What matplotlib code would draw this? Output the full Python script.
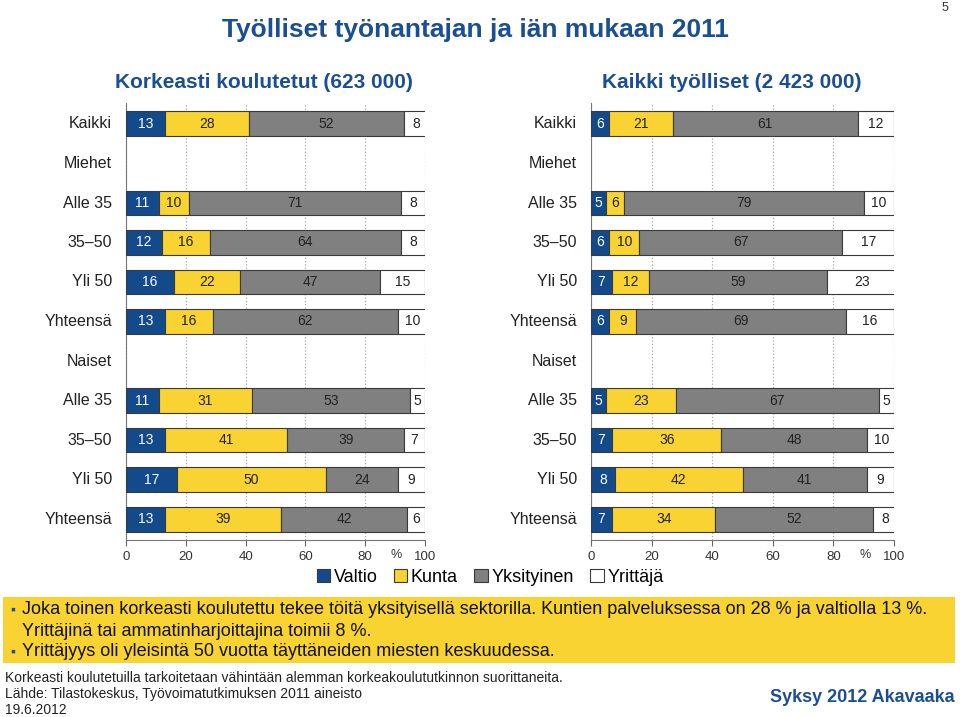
import matplotlib.pyplot as plt
import numpy as np

plt.rcParams['font.family'] = ['Liberation Sans', 'DejaVu Sans']

rows = ["Kaikki", "Miehet", "Alle 35", "35–50", "Yli 50", "Yhteensä",
        "Naiset", "Alle 35", "35–50", "Yli 50", "Yhteensä"]
series = ["Valtio", "Kunta", "Yksityinen", "Yrittäjä"]
colors = ["#124a8c", "#f9d331", "#808080", "#ffffff"]
txtcol = ["white", "#222222", "#222222", "#222222"]

# None = header row without bar
korkeasti = [[13, 28, 52, 8], None, [11, 10, 71, 8], [12, 16, 64, 8],
             [16, 22, 47, 15], [13, 16, 62, 10], None, [11, 31, 53, 5],
             [13, 41, 39, 7], [17, 50, 24, 9], [13, 39, 42, 6]]
kaikki = [[6, 21, 61, 12], None, [5, 6, 79, 10], [6, 10, 67, 17],
          [7, 12, 59, 23], [6, 9, 69, 16], None, [5, 23, 67, 5],
          [7, 36, 48, 10], [8, 42, 41, 9], [7, 34, 52, 8]]

titles = ["Korkeasti koulutetut (623 000)", "Kaikki työlliset (2 423 000)"]
BLUE = "#1b4f93"

W, H = 960, 717
fig = plt.figure(figsize=(W / 100, H / 100), dpi=100)


def px_axes(x0, x1, ytop, ybot):
    return fig.add_axes([x0 / W, 1 - ybot / H, (x1 - x0) / W, (ybot - ytop) / H])


def panel(ax, data, lab_x):
    y = np.arange(len(rows))
    left = np.zeros(len(rows))
    for j in range(4):
        vals = np.array([d[j] if d else 0 for d in data], dtype=float)
        mask = np.array([d is not None for d in data])
        ax.barh(y[mask], vals[mask], left=left[mask], height=0.63,
                color=colors[j], edgecolor="#3a3a3a", linewidth=0.8, zorder=3)
        for yi, v, l, m in zip(y, vals, left, mask):
            if m:
                ax.text(l + v / 2, yi, f"{int(v)}", ha="center", va="center",
                        color=txtcol[j], fontsize=10, zorder=4)
        left += vals
    ax.set_xlim(0, 100)
    ax.set_ylim(10.53, -0.53)
    ax.set_yticks([])
    ax.set_xticks([0, 20, 40, 60, 80, 100])
    ax.set_xticklabels(["0", "20", "40", "60", "80", "100"])
    ax.tick_params(axis="x", labelsize=9.5, colors="#333333", length=4,
                   color="#666666", pad=4)
    ax.grid(axis="x", color="#aaaaaa", linestyle=":", linewidth=0.9, zorder=0)
    for s in ["top", "right"]:
        ax.spines[s].set_visible(False)
    ax.spines["left"].set_color("#777777")
    ax.spines["bottom"].set_color("#777777")
    ax.text(90.5, 10.75, "%", transform=ax.transData, fontsize=9, color="#333333",
            ha="center", va="top", clip_on=False)
    for yi, r in enumerate(rows):
        fig.text(lab_x / W, 1 - (124 + yi * 39.5) / H, r, ha="right", va="center",
                 fontsize=11.5, color="#222222")


axL = px_axes(126, 425, 103, 540)
axR = px_axes(591, 894, 103, 540)
panel(axL, korkeasti, 112)
panel(axR, kaikki, 577)

fig.text(475 / W, 1 - 30 / H, "Työlliset työnantajan ja iän mukaan 2011", ha="center",
         va="center", fontsize=19, color=BLUE, fontweight="bold")
fig.text(945 / W, 1 - 8 / H, "5", ha="center", va="center", fontsize=9, color="#333333")
fig.text(264 / W, 1 - 82 / H, titles[0], ha="center", va="center", fontsize=15,
         fontweight="bold", color=BLUE)
fig.text(732 / W, 1 - 82 / H, titles[1], ha="center", va="center", fontsize=15,
         fontweight="bold", color=BLUE)

# legend
handles = [plt.Rectangle((0, 0), 1, 1, facecolor=c, edgecolor="#3a3a3a", linewidth=0.8)
           for c in colors]
fig.legend(handles, series, loc="center", bbox_to_anchor=(490 / W, 1 - 577 / H), ncol=4,
           frameon=False, fontsize=13, handlelength=0.75, handleheight=0.75,
           handletextpad=0.2, columnspacing=0.9, borderaxespad=0)

# yellow info box
fig.patches.append(plt.Rectangle((3 / W, 1 - 663 / H), 952 / W, 66 / H,
                                 transform=fig.transFigure, facecolor="#f9d331",
                                 edgecolor="none"))
lines = [(610, True, "Joka toinen korkeasti koulutettu tekee töitä yksityisellä sektorilla. Kuntien palveluksessa on 28 % ja valtiolla 13 %."),
         (631, False, "Yrittäjinä tai ammatinharjoittajina toimii 8 %."),
         (652, True, "Yrittäjyys oli yleisintä 50 vuotta täyttäneiden miesten keskuudessa.")]
for yy, bullet, t in lines:
    if bullet:
        fig.text(10 / W, 1 - yy / H, "▪", ha="left", va="center", fontsize=10, color=BLUE)
    fig.text(22 / W, 1 - yy / H, t, ha="left", va="center", fontsize=13, color="#111111")

foot = ["Korkeasti koulutetuilla tarkoitetaan vähintään alemman korkeakoulututkinnon suorittaneita.",
        "Lähde: Tilastokeskus, Työvoimatutkimuksen 2011 aineisto",
        "19.6.2012"]
for i, t in enumerate(foot):
    fig.text(5 / W, 1 - (678 + i * 16) / H, t, ha="left", va="center", fontsize=10,
             color="#222222")
fig.text(955 / W, 1 - 697 / H, "Syksy 2012 Akavaaka", ha="right", va="center",
         fontsize=13, fontweight="bold", color=BLUE)

fig.savefig("out.png", dpi=100, facecolor="white")
